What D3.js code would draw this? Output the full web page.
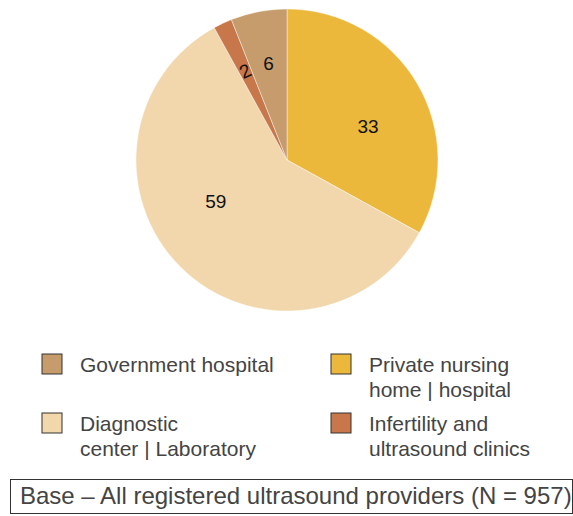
<!DOCTYPE html>
<html>
<head>
<meta charset="utf-8">
<script src="https://cdn.jsdelivr.net/npm/d3@7"></script>
<style>
  body { margin: 0; background: #fff; }
  svg { display: block; font-family: "Liberation Sans", Arial, sans-serif; }
</style>
</head>
<body>
<div class="chart"></div>
<script>
// data
var categories = ["Private nursing home | hospital", "Diagnostic center | Laboratory", "Infertility and ultrasound clinics", "Government hospital"];
var values = [33, 59, 2, 6];
var colors = ["#EBB83B", "#F1D7AB", "#C8774A", "#C69C6D"];
var legendOrder = [3, 0, 1, 2];
var legendLines = {
  0: ["Private nursing", "home | hospital"],
  1: ["Diagnostic", "center | Laboratory"],
  2: ["Infertility and", "ultrasound clinics"],
  3: ["Government hospital"]
};
var baseNote = "Base \u2013 All registered ultrasound providers (N = 957)";

var width = 573, height = 516;
var cx = 287, cy = 160, radius = 151;

var svg = d3.select(".chart")
    .append("svg")
    .attr("width", width)
    .attr("height", height);

var pie = d3.pie().sort(null).value(function(d) { return d; });
var arcs = pie(values);

var arc = d3.arc().innerRadius(0).outerRadius(radius);

var g = svg.append("g")
    .attr("transform", "translate(" + cx + "," + cy + ")");

g.selectAll("path")
    .data(arcs)
    .enter().append("path")
    .attr("d", arc)
    .attr("fill", function(d, i) { return colors[i]; })
    .attr("stroke", "#fff")
    .attr("stroke-opacity", 0.6)
    .attr("stroke-width", 0.7);

// labels: small slices further out, big ones a bit past the middle angle
g.selectAll("text.lbl")
    .data(arcs)
    .enter().append("text")
    .attr("class", "lbl")
    .attr("transform", function(d) {
      var small = d.data < 10;
      var frac = small ? 0.5 : 0.57;
      var r = small ? radius * 0.65 : radius * (d.data > 50 ? 0.545 : 0.58);
      var a = d.startAngle + (d.endAngle - d.startAngle) * frac;
      var x = r * Math.sin(a), y = -r * Math.cos(a);
      var rot = d.data < 3 ? a * 180 / Math.PI - 360 : 0;
      return "translate(" + x + "," + y + ") rotate(" + rot + ")";
    })
    .attr("text-anchor", "middle")
    .attr("dominant-baseline", "central")
    .style("font-size", "19px")
    .style("fill", "#111")
    .text(function(d) { return d.data; });

// legend
var colX = [42, 331];
var rowY = [354, 413];
legendOrder.forEach(function(idx, k) {
  var x = colX[k % 2], y = rowY[Math.floor(k / 2)];
  svg.append("rect")
      .attr("x", x).attr("y", y)
      .attr("width", 20).attr("height", 20)
      .attr("fill", colors[idx])
      .attr("stroke", "#333")
      .attr("stroke-width", 1);
  var t = svg.append("text")
      .attr("x", x + 38).attr("y", y + 18)
      .style("font-size", "21px")
      .style("fill", "#444");
  legendLines[idx].forEach(function(line, j) {
    t.append("tspan").attr("x", x + 38).attr("dy", j === 0 ? 0 : 24.5).text(line);
  });
});

// base note
svg.append("rect")
    .attr("x", 10.5).attr("y", 479.5)
    .attr("width", 562).attr("height", 34)
    .attr("fill", "none")
    .attr("stroke", "#333")
    .attr("stroke-width", 1);
svg.append("text")
    .attr("x", 20).attr("y", 504)
    .style("font-size", "24px")
    .style("fill", "#444")
    .text(baseNote);
</script>
</body>
</html>
